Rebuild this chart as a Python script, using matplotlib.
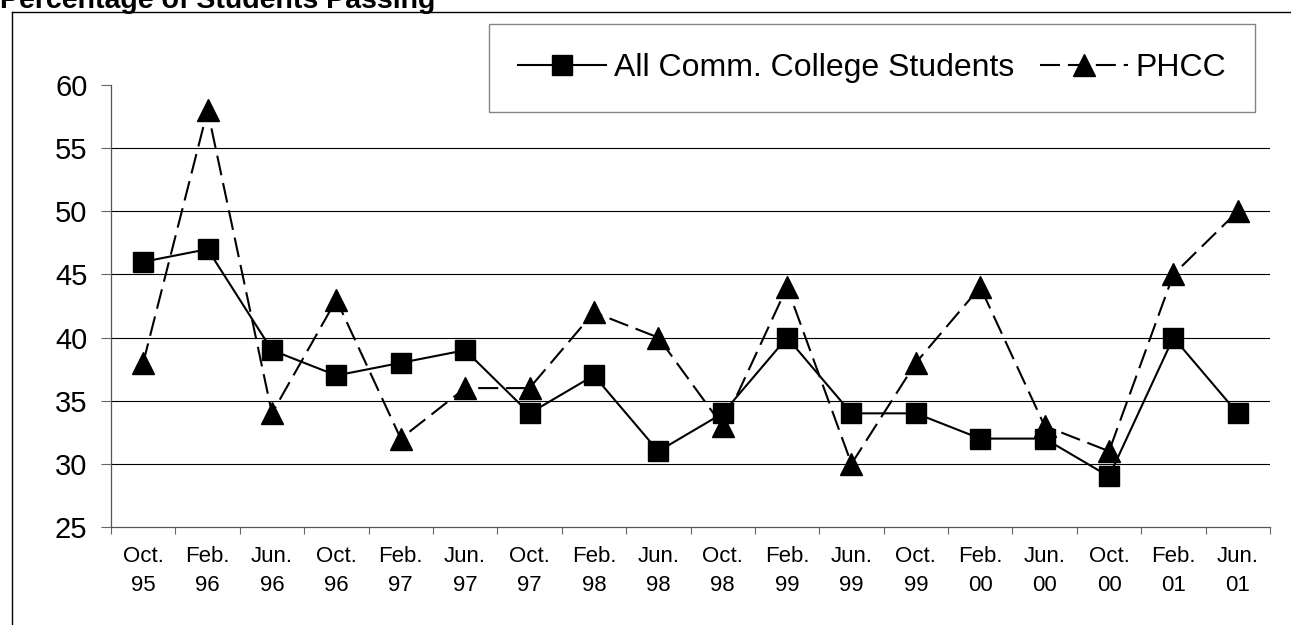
import matplotlib
matplotlib.use("Agg")
import matplotlib.pyplot as plt
from matplotlib.lines import Line2D
import numpy as np

plt.rcParams['font.family'] = ['Liberation Sans', 'DejaVu Sans']

categories = ["Oct.\n95", "Feb.\n96", "Jun.\n96", "Oct.\n96", "Feb.\n97", "Jun.\n97",
              "Oct.\n97", "Feb.\n98", "Jun.\n98", "Oct.\n98", "Feb.\n99", "Jun.\n99",
              "Oct.\n99", "Feb.\n00", "Jun.\n00", "Oct.\n00", "Feb.\n01", "Jun.\n01"]
all_cc = [46, 47, 39, 37, 38, 39, 34, 37, 31, 34, 40, 34, 34, 32, 32, 29, 40, 34]
phcc = [38, 58, 34, 43, 32, 36, 36, 42, 40, 33, 44, 30, 38, 44, 33, 31, 45, 50]
y_ticks = [25, 30, 35, 40, 45, 50, 55, 60]
title = "Percentage of Students Passing"

W, H = 1291, 625
fig = plt.figure(figsize=(W / 100, H / 100), dpi=100)
ax = fig.add_axes([111 / W, 1 - 527 / H, (1270 - 111) / W, (527 - 85) / H])

x = np.arange(len(categories))
ax.plot(x, all_cc, color='black', lw=1.5, marker='s', markersize=15,
        label='All Comm. College Students', zorder=3)
ax.plot(x, phcc, color='black', lw=1.5, dashes=(9.6, 3.8), marker='^', markersize=16,
        label='PHCC', zorder=3)

ax.set_xlim(-0.5, len(categories) - 0.5)
ax.set_ylim(25, 60)
ax.set_yticks(y_ticks)
ax.tick_params(axis='y', direction='out', length=7, width=0.8, color='#666666',
               labelsize=21, pad=10)
for yv in y_ticks[1:-1]:
    ax.axhline(yv, color='black', lw=0.8, zorder=1)

ax.set_xticks(np.arange(-0.5, len(categories), 1.0))
ax.set_xticklabels([])
ax.tick_params(axis='x', which='major', direction='out', length=5, width=0.8, color='#666666')
ax.set_xticks(x, minor=True)
ax.set_xticklabels(categories, minor=True, fontsize=16, linespacing=1.45)
ax.tick_params(axis='x', which='minor', length=0, pad=14)

for s in ['top', 'right']:
    ax.spines[s].set_visible(False)
for s in ['left', 'bottom']:
    ax.spines[s].set_color('#555555')
    ax.spines[s].set_linewidth(0.9)

leg = ax.legend(loc='upper right', bbox_to_anchor=(1255 / W, 1 - 24 / H),
                bbox_transform=fig.transFigure, ncol=2, fontsize=23, frameon=True,
                fancybox=False, edgecolor='#666666', handlelength=2.75,
                handletextpad=0.25, columnspacing=0.8, borderpad=0.9, borderaxespad=0)
leg.get_frame().set_linewidth(1.0)

fig.add_artist(Line2D([12 / W, 12 / W], [0, 1 - 12 / H], color='black', lw=1.0,
                      transform=fig.transFigure))
fig.add_artist(Line2D([12 / W, 1], [1 - 12 / H, 1 - 12 / H], color='black', lw=1.0,
                      transform=fig.transFigure))
fig.text(0.0, 1 - 8 / H, title, fontsize=20.5, fontweight='bold', va='baseline', ha='left')

fig.savefig('out.png', dpi=100)
